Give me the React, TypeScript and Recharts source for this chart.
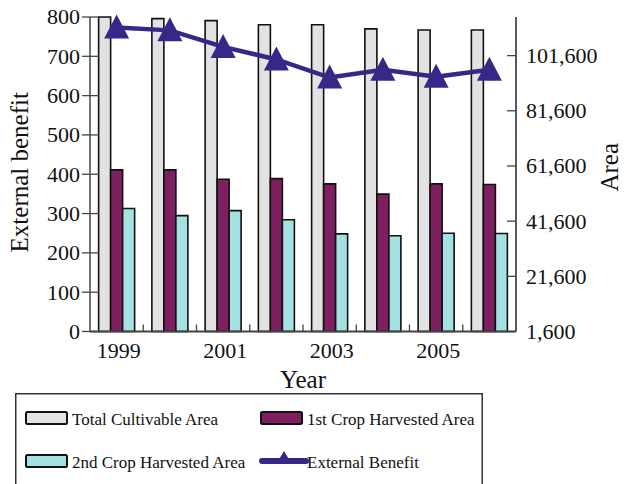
import React from 'react';
import { ComposedChart, Bar, Line, XAxis, YAxis, Legend, Label } from 'recharts';

const years = ['1999', '2000', '2001', '2002', '2003', '2004', '2005', '2006'];
const totalCultivable = [115600, 115000, 114300, 112800, 112800, 111300, 110900, 110900];
const firstCrop = [60200, 60200, 56800, 57000, 55100, 51400, 55100, 54900];
const secondCrop = [46200, 43600, 45400, 42100, 37000, 36300, 37200, 37100];
const externalBenefit = [773, 766, 724, 692, 646, 666, 648, 666];

const leftTicks = [0, 100, 200, 300, 400, 500, 600, 700, 800];
const rightTicks = [1600, 21600, 41600, 61600, 81600, 101600];
const labeledYears = ['1999', '2001', '2003', '2005'];

const data = years.map((y, i) => ({
  year: y,
  total: totalCultivable[i],
  first: firstCrop[i],
  second: secondCrop[i],
  benefit: externalBenefit[i],
}));

const W = 624;
const H = 484;
const LEFT_W = 90;
const RIGHT_W = 108;
const PLOT_W = W - LEFT_W - RIGHT_W;
const BAND = PLOT_W / years.length;

const FONT = "'Liberation Serif', 'Times New Roman', serif";
const C_GREY = '#e2e2e2';
const C_PURPLE = '#7e1f5f';
const C_CYAN = '#a5e1e0';
const C_LINE = '#352889';
const AXIS = '#444';

const fmt = (v: number) => v.toLocaleString('en-US');

const XTick = (props: any) => {
  const { x, y, payload, index } = props;
  const showLabel = labeledYears.includes(payload.value);
  const isLast = index === years.length - 1;
  return (
    <g>
      {!isLast && (
        <line x1={x + BAND / 2} x2={x + BAND / 2} y1={y} y2={y - 7} stroke={AXIS} strokeWidth={1.3} />
      )}
      {showLabel && (
        <text x={x + 2} y={y + 26.5} textAnchor="middle" fontFamily={FONT} fontSize={22} fill="#111">
          {payload.value}
        </text>
      )}
    </g>
  );
};

const LeftTick = (props: any) => {
  const { x, y, payload } = props;
  return (
    <g>
      <line x1={x - 8} x2={x + 9} y1={y} y2={y} stroke={AXIS} strokeWidth={1.3} />
      <text x={x - 10} y={y} dy="0.34em" textAnchor="end" fontFamily={FONT} fontSize={22} fill="#111">
        {payload.value}
      </text>
    </g>
  );
};

const RightTick = (props: any) => {
  const { x, y, payload } = props;
  return (
    <g>
      <line x1={x - 9} x2={x} y1={y} y2={y} stroke={AXIS} strokeWidth={1.3} />
      <text x={x + 10} y={y} dy="0.34em" textAnchor="start" fontFamily={FONT} fontSize={22} fill="#111">
        {fmt(payload.value)}
      </text>
    </g>
  );
};

const VTitle = (dxFromAxisBox: number, text: string, dyShift: number) => (props: any) => {
  const vb = props.viewBox || {};
  const cx = (vb.x || 0) + dxFromAxisBox;
  const cy = (vb.y || 0) + (vb.height || 0) / 2 + dyShift;
  return (
    <text
      x={cx}
      y={cy}
      transform={`rotate(-90, ${cx}, ${cy})`}
      textAnchor="middle"
      fontFamily={FONT}
      fontSize={25}
      fill="#111"
    >
      {text}
    </text>
  );
};

const XTitle = (props: any) => {
  const vb = props.viewBox || {};
  const cx = (vb.x || 0) + (vb.width || 0) / 2;
  const cy = (vb.y || 0) + 56;
  return (
    <text x={cx} y={cy} textAnchor="middle" fontFamily={FONT} fontSize={25} fill="#111">
      Year
    </text>
  );
};

const Triangle = (props: any) => {
  const { cx, cy } = props;
  if (cx == null || cy == null) return null;
  return <path d={`M${cx},${cy - 13} L${cx + 12.5},${cy + 11} L${cx - 12.5},${cy + 11} Z`} fill={C_LINE} />;
};

const legendItems = [
  { name: 'Total Cultivable Area', type: 'bar', color: C_GREY, col: 0, row: 0 },
  { name: '1st Crop Harvested Area', type: 'bar', color: C_PURPLE, col: 1, row: 0 },
  { name: '2nd Crop Harvested Area', type: 'bar', color: C_CYAN, col: 0, row: 1 },
  { name: 'External Benefit', type: 'line', color: C_LINE, col: 1, row: 1 },
];

const LegendBox = () => {
  const colX = [11, 246];
  const rowY = [25, 68];
  return (
    <svg width={468} height={100} style={{ display: 'block' }}>
      <rect x={0.75} y={0.75} width={466.5} height={120} fill="#fff" stroke="#333" strokeWidth={1.5} />
      {legendItems.map((it) => {
        const x = colX[it.col];
        const y = rowY[it.row];
        return (
          <g key={it.name}>
            {it.type === 'bar' ? (
              <rect x={x} y={y - 6} width={41} height={12} rx={1.5} fill={it.color} stroke="#111" strokeWidth={2} />
            ) : (
              <g>
                <line x1={x + 1} x2={x + 45} y1={y} y2={y} stroke={it.color} strokeWidth={6} strokeLinecap="round" />
                <path d={`M${x + 23},${y - 10} L${x + 29},${y} L${x + 17},${y} Z`} fill={it.color} />
              </g>
            )}
            <text x={x + 46} y={y + 7} fontFamily={FONT} fontSize={17} fill="#111">
              {it.name}
            </text>
          </g>
        );
      })}
    </svg>
  );
};

export default function App() {
  return (
    <div style={{ position: 'absolute', left: 0, top: 0, width: W, height: H, overflow: 'hidden', background: '#fff' }}>
      <ComposedChart
        width={W}
        height={H}
        data={data}
        margin={{ top: 17, right: 0, left: 0, bottom: 92.5 }}
        barCategoryGap="16.2%"
        barGap={0}
      >
        <XAxis
          dataKey="year"
          height={60}
          interval={0}
          tickSize={0}
          tickMargin={0}
          tick={<XTick />}
          axisLine={{ stroke: AXIS, strokeWidth: 2 }}
          tickLine={false}
        >
          <Label content={XTitle} />
        </XAxis>
        <YAxis
          yAxisId="left"
          orientation="left"
          width={LEFT_W}
          domain={[0, 800]}
          ticks={leftTicks}
          interval={0}
          tickSize={0}
          tickMargin={0}
          tick={<LeftTick />}
          tickLine={false}
          axisLine={{ stroke: AXIS, strokeWidth: 1.5 }}
        >
          <Label content={VTitle(28, 'External benefit', -2)} />
        </YAxis>
        <YAxis
          yAxisId="right"
          orientation="right"
          width={RIGHT_W}
          domain={[1600, 115600]}
          ticks={rightTicks}
          interval={0}
          tickSize={0}
          tickMargin={0}
          tick={<RightTick />}
          tickLine={false}
          axisLine={{ stroke: '#222', strokeWidth: 1.5 }}
        >
          <Label content={VTitle(RIGHT_W - 6, 'Area', -7)} />
        </YAxis>
        <Bar yAxisId="right" dataKey="total" name="Total Cultivable Area" fill={C_GREY} stroke="#111" strokeWidth={1.6} isAnimationActive={false} />
        <Bar yAxisId="right" dataKey="first" name="1st Crop Harvested Area" fill={C_PURPLE} stroke="#111" strokeWidth={1.6} isAnimationActive={false} />
        <Bar yAxisId="right" dataKey="second" name="2nd Crop Harvested Area" fill={C_CYAN} stroke="#111" strokeWidth={1.6} isAnimationActive={false} />
        <Line
          yAxisId="left"
          dataKey="benefit"
          name="External Benefit"
          stroke={C_LINE}
          strokeWidth={4.5}
          dot={<Triangle />}
          activeDot={false}
          isAnimationActive={false}
        />
        <Legend
          layout="vertical"
          verticalAlign="middle"
          align="center"
          content={<LegendBox />}
          wrapperStyle={{ left: 15, top: 393, width: 468, height: 100 }}
        />
      </ComposedChart>
    </div>
  );
}
